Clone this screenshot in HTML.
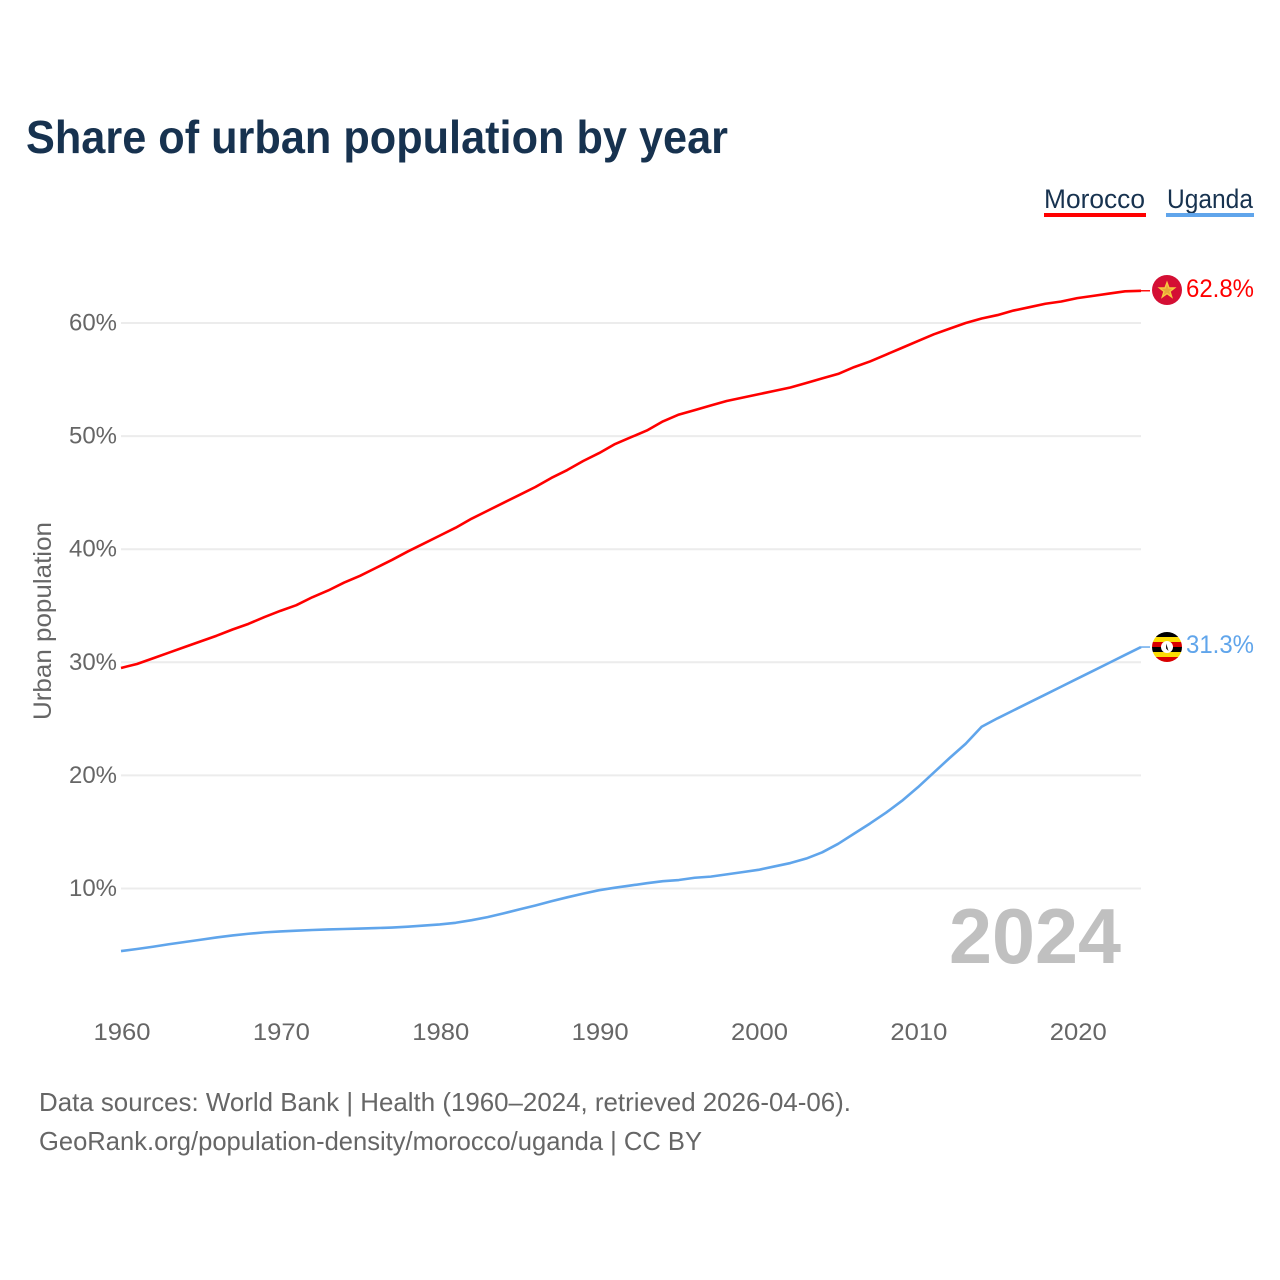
<!DOCTYPE html>
<html lang="en">
<head>
<meta charset="utf-8">
<title>Share of urban population by year</title>
<style>
html,body{margin:0;padding:0;background:#fff;}
svg{display:block;font-family:"Liberation Sans",sans-serif;}
</style>
</head>
<body>
<svg id="chart" width="1280" height="1280" viewBox="0 0 1280 1280" xmlns="http://www.w3.org/2000/svg">
  <rect width="1280" height="1280" fill="#fff"/>
  <text x="26" y="153" font-size="46" font-weight="700" fill="#17324f" textLength="702" lengthAdjust="spacingAndGlyphs">Share of urban population by year</text>

  <g>
    <text x="1044" y="208" font-size="27" fill="#17324f" textLength="101" lengthAdjust="spacingAndGlyphs">Morocco</text>
    <rect x="1044" y="213" width="102" height="4" fill="#ff0000"/>
  </g>
  <g>
    <text x="1167" y="208" font-size="27" fill="#17324f" textLength="86" lengthAdjust="spacingAndGlyphs">Uganda</text>
    <rect x="1166" y="213" width="88" height="4" fill="#60a5eb"/>
  </g>

  <text transform="translate(51,720) rotate(-90)" font-size="25" fill="#666" textLength="198" lengthAdjust="spacingAndGlyphs">Urban population</text>

  <g id="grid"></g>
  <g id="yticks"></g>
  <g id="xticks"></g>

  <text x="949" y="963" font-size="78" font-weight="700" fill="#c0c0c0" textLength="172" lengthAdjust="spacingAndGlyphs">2024</text>

  <g id="series"></g>

  <defs>
    <clipPath id="ug-clip"><circle cx="1167" cy="647" r="15"/></clipPath>
  </defs>
  <g>
    <circle cx="1167" cy="290" r="15" fill="#d40f34"/>
    <polygon points="1167,282.5 1169,288 1174.5,288 1170,291.5 1171.7,297 1167,293.6 1162.3,297 1164,291.5 1159.5,288 1165,288" fill="#e8a83a" stroke="#f6c840" stroke-width="1.4"/>
  </g>
  <g clip-path="url(#ug-clip)">
    <rect x="1152" y="632" width="30" height="5" fill="#000"/>
    <rect x="1152" y="637" width="30" height="5" fill="#fcdc04"/>
    <rect x="1152" y="642" width="30" height="5" fill="#d90000"/>
    <rect x="1152" y="647" width="30" height="5" fill="#000"/>
    <rect x="1152" y="652" width="30" height="5" fill="#fcdc04"/>
    <rect x="1152" y="657" width="30" height="5" fill="#d90000"/>
    <circle cx="1167" cy="647" r="6" fill="#fff"/>
    <path d="M1166 643.5v5l2.5 2.5-1-3.5z" fill="#222"/>
  </g>

  <text id="label-morocco" x="1186" y="297" font-size="25" fill="#ff0000" textLength="68" lengthAdjust="spacingAndGlyphs"></text>
  <text id="label-uganda" x="1186" y="653" font-size="25" fill="#60a5eb" textLength="68" lengthAdjust="spacingAndGlyphs"></text>

  <text x="39" y="1111" font-size="26" fill="#666" textLength="812" lengthAdjust="spacingAndGlyphs">Data sources: World Bank | Health (1960–2024, retrieved 2026-04-06).</text>
  <text x="39" y="1150" font-size="26" fill="#666" textLength="663" lengthAdjust="spacingAndGlyphs">GeoRank.org/population-density/morocco/uganda | CC BY</text>
</svg>
<script>
const years = [1960,1961,1962,1963,1964,1965,1966,1967,1968,1969,1970,1971,1972,1973,1974,1975,1976,1977,1978,1979,1980,1981,1982,1983,1984,1985,1986,1987,1988,1989,1990,1991,1992,1993,1994,1995,1996,1997,1998,1999,2000,2001,2002,2003,2004,2005,2006,2007,2008,2009,2010,2011,2012,2013,2014,2015,2016,2017,2018,2019,2020,2021,2022,2023,2024];
const morocco = [29.5,29.85,30.35,30.85,31.35,31.85,32.35,32.9,33.4,34.0,34.55,35.05,35.75,36.35,37.05,37.65,38.35,39.05,39.8,40.5,41.2,41.9,42.7,43.4,44.1,44.8,45.5,46.3,47.0,47.8,48.5,49.3,49.9,50.5,51.3,51.9,52.3,52.7,53.1,53.4,53.7,54.0,54.3,54.7,55.1,55.5,56.1,56.6,57.2,57.8,58.4,59.0,59.5,60.0,60.4,60.7,61.1,61.4,61.7,61.9,62.2,62.4,62.6,62.8,62.85];
const uganda = [4.47,4.65,4.85,5.07,5.27,5.47,5.67,5.85,6.0,6.12,6.2,6.27,6.33,6.38,6.42,6.46,6.5,6.55,6.62,6.72,6.82,6.97,7.2,7.47,7.8,8.15,8.5,8.87,9.22,9.55,9.85,10.07,10.27,10.47,10.65,10.75,10.95,11.05,11.25,11.45,11.65,11.95,12.25,12.65,13.2,13.95,14.85,15.75,16.7,17.75,18.95,20.25,21.55,22.8,24.3,25.05,25.75,26.45,27.15,27.85,28.55,29.25,29.95,30.65,31.35];
const yTicks = [10,20,30,40,50,60];
const xTicks = [1960,1970,1980,1990,2000,2010,2020];
const endLabelMorocco = "62.8%";
const endLabelUganda = "31.3%";

const NS = "http://www.w3.org/2000/svg";
function xScale(year){ return 121 + (year - 1960) * (1141 - 121) / 64; }
function yScale(val){ return 1001.6 - val * 11.31; }

const grid = document.getElementById("grid");
const yG = document.getElementById("yticks");
yTicks.forEach(function(t){
  const ln = document.createElementNS(NS, "line");
  ln.setAttribute("x1", 121);
  ln.setAttribute("x2", 1141);
  ln.setAttribute("y1", yScale(t));
  ln.setAttribute("y2", yScale(t));
  ln.setAttribute("stroke", "#ececec");
  ln.setAttribute("stroke-width", 2);
  
  
  grid.appendChild(ln);
  const tx = document.createElementNS(NS, "text");
  tx.setAttribute("x", 117);
  tx.setAttribute("y", yScale(t) + 7.5);
  tx.setAttribute("text-anchor", "end");
  tx.setAttribute("font-size", 24.5);
  tx.setAttribute("fill", "#666");
  tx.setAttribute("textLength", 48);
  tx.setAttribute("lengthAdjust", "spacingAndGlyphs");
  
  
  tx.textContent = t + "%";
  yG.appendChild(tx);
});

const xG = document.getElementById("xticks");
xTicks.forEach(function(t){
  const tx = document.createElementNS(NS, "text");
  tx.setAttribute("x", xScale(t) + 1);
  tx.setAttribute("y", 1040);
  tx.setAttribute("text-anchor", "middle");
  tx.setAttribute("font-size", 24.5);
  tx.setAttribute("fill", "#666");
  tx.setAttribute("textLength", 57);
  tx.setAttribute("lengthAdjust", "spacingAndGlyphs");
  
  
  tx.textContent = t;
  xG.appendChild(tx);
});

const seriesG = document.getElementById("series");
function drawSeries(values, color){
  const pts = years.map(function(y, i){ return xScale(y).toFixed(2) + "," + yScale(values[i]).toFixed(2); }).join(" ");
  const pl = document.createElementNS(NS, "polyline");
  pl.setAttribute("points", pts);
  pl.setAttribute("fill", "none");
  pl.setAttribute("stroke", color);
  pl.setAttribute("stroke-width", 2.6);
  pl.setAttribute("stroke-linejoin", "round");
  
  
  seriesG.appendChild(pl);
  const last = values[values.length - 1];
  const lead = document.createElementNS(NS, "line");
  lead.setAttribute("x1", xScale(years[years.length - 1]));
  lead.setAttribute("x2", xScale(years[years.length - 1]) + 9);
  lead.setAttribute("y1", yScale(last));
  lead.setAttribute("y2", yScale(last));
  lead.setAttribute("stroke", color);
  lead.setAttribute("stroke-width", 1.4);
  
  
  seriesG.appendChild(lead);
}
drawSeries(morocco, "#ff0000");
drawSeries(uganda, "#60a5eb");

document.getElementById("label-morocco").textContent = endLabelMorocco;
document.getElementById("label-uganda").textContent = endLabelUganda;
</script>
</body>
</html>
